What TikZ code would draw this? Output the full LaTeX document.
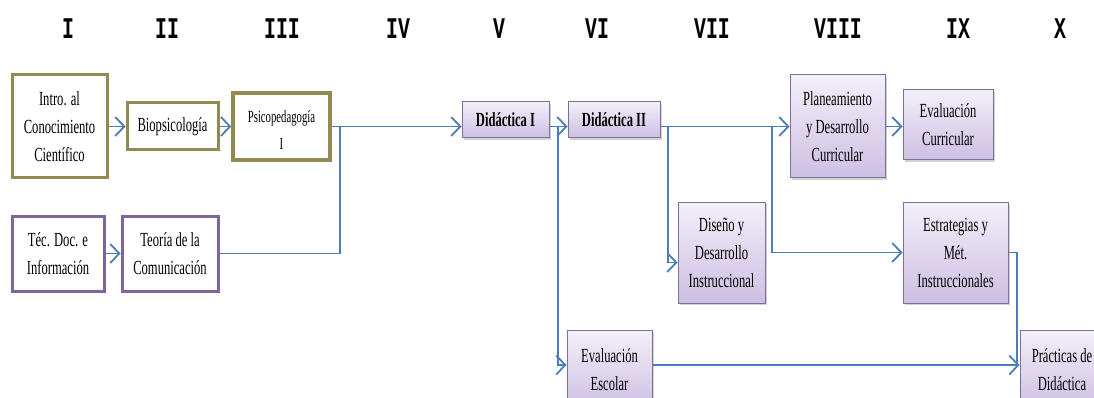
\documentclass[tikz,border=0pt]{standalone}
\usepackage{fontspec}
\setmainfont{Liberation Serif}
\newfontfamily\boxfont[FakeStretch=0.63]{Liberation Serif}
\newfontfamily\hdrfont[FakeStretch=0.66]{Liberation Mono}
\usetikzlibrary{arrows.meta,shadows}
\definecolor{olivec}{HTML}{938953}
\definecolor{purpc}{HTML}{7F649F}
\definecolor{lavline}{HTML}{7D6E9C}
\definecolor{lavtop}{HTML}{F3EFF9}
\definecolor{lavbot}{HTML}{CDBFE3}
\definecolor{linec}{HTML}{4A7EBB}
\begin{document}
\begin{tikzpicture}[x=1pt,y=-1pt,
  base/.style={rectangle, align=center, inner sep=0pt, font=\boxfont\fontsize{20}{28}\selectfont, text=black},
  sz/.style 2 args={minimum width=#1, minimum height=#2},
  olivebox/.style={base, draw=olivec, line width=3pt, fill=white},
  purpbox/.style={base, draw=purpc, line width=3pt, fill=white},
  lavbox/.style={base, draw=lavline, line width=1pt, top color=lavtop, bottom color=lavbot,
    drop shadow={shadow xshift=2pt, shadow yshift=-2pt, opacity=0.35}},
  boldtxt/.style={font=\boxfont\bfseries\fontsize{20}{28}\selectfont},
  conn/.style={draw=linec, line width=1.8pt},
  arr/.style={conn, -{Straight Barb[length=9pt,width=19pt,line width=1.8pt]}},
  hdr/.style={font=\hdrfont\bfseries\fontsize{30}{30}\selectfont, inner sep=0pt}
]
\clip (0,0) rectangle (1094,398);
\fill[white] (0,0) rectangle (1094,398);
% headers
\node[hdr] (h1) at (68,29) {I};
\node[hdr] (h2) at (167,29) {II};
\node[hdr] (h3) at (282,29) {III};
\node[hdr] (h4) at (398,29) {IV};
\node[hdr] (h5) at (499,29) {V};
\node[hdr] (h6) at (597,29) {VI};
\node[hdr] (h7) at (712,29) {VII};
\node[hdr] (h8) at (838,29) {VIII};
\node[hdr] (h9) at (958,29) {IX};
\node[hdr] (h10) at (1060,29) {X};
% boxes
\node[olivebox, sz={95pt}{103pt}] (intro) at (59.5,126.5) {Intro. al\\Conocimiento\\Científico};
\node[olivebox, sz={91pt}{47pt}] (bio) at (172.5,126.5) {Biopsicología};
\node[olivebox, sz={97pt}{67pt}, line width=3.6pt, font=\boxfont\fontsize{17}{27}\selectfont] (psi) at (281.5,126.5) {\rule{0pt}{20pt}Psicopedagogía\\I};
\node[purpbox, sz={92pt}{75pt}] (tec) at (58,253.5) {Téc. Doc. e\\Información};
\node[purpbox, sz={96pt}{75pt}] (teo) at (170,253.5) {Teoría de la\\Comunicación};
\node[lavbox, sz={87pt}{36pt}, boldtxt] (d1) at (505.5,120) {Didáctica I};
\node[lavbox, sz={92pt}{36pt}, boldtxt] (d2) at (614,120) {Didáctica II};
\node[lavbox, sz={87pt}{101pt}] (dis) at (721.5,252.5) {Diseño y\\Desarrollo\\Instruccional};
\node[lavbox, sz={95pt}{103pt}] (plan) at (837.5,126.5) {Planeamiento\\y Desarrollo\\Curricular};
\node[lavbox, sz={90pt}{70pt}] (evc) at (948,125) {Evaluación\\Curricular};
\node[lavbox, sz={105pt}{101pt}] (est) at (955.5,252.5) {Estrategias y\\Mét.\\Instruccionales};
\node[lavbox, sz={85pt}{80pt}] (eve) at (609.5,370) {Evaluación\\Escolar};
\node[lavbox, sz={84pt}{80pt}] (pra) at (1062,370) {Prácticas de\\Didáctica};
% junctions
\coordinate (j1) at (340,126.5);
\coordinate (j2) at (558,126.5);
\coordinate (j3) at (668,126.5);
\coordinate (j4) at (772,126.5);
\coordinate (j5) at (1017,365);
% connectors
\draw[arr] (intro.east) -- (bio.west);
\draw[arr] (bio.east) -- (psi.west);
\draw[arr] (tec.east) -- (teo.west);
\draw[arr] (psi.east) -- (psi.east -| d1.west);
\draw[conn] (teo.east) -| (j1);
\draw[arr] (j1 -| d1.east) -- (j1 -| d2.west);
\draw[arr] (j1 -| d2.east) -- (j1 -| plan.west);
\draw[arr] (j2) |- ([yshift=5pt]eve.west);
\draw[arr] (j3) |- ([yshift=-10pt]dis.west);
\draw[arr] (j4) |- (est.west);
\draw[arr] (plan.east) -- (plan.east -| evc.west);
\draw[conn] (est.east) -| (j5);
\draw[arr] ([yshift=5pt]eve.east) -- ([yshift=5pt]pra.west);
\end{tikzpicture}
\end{document}
